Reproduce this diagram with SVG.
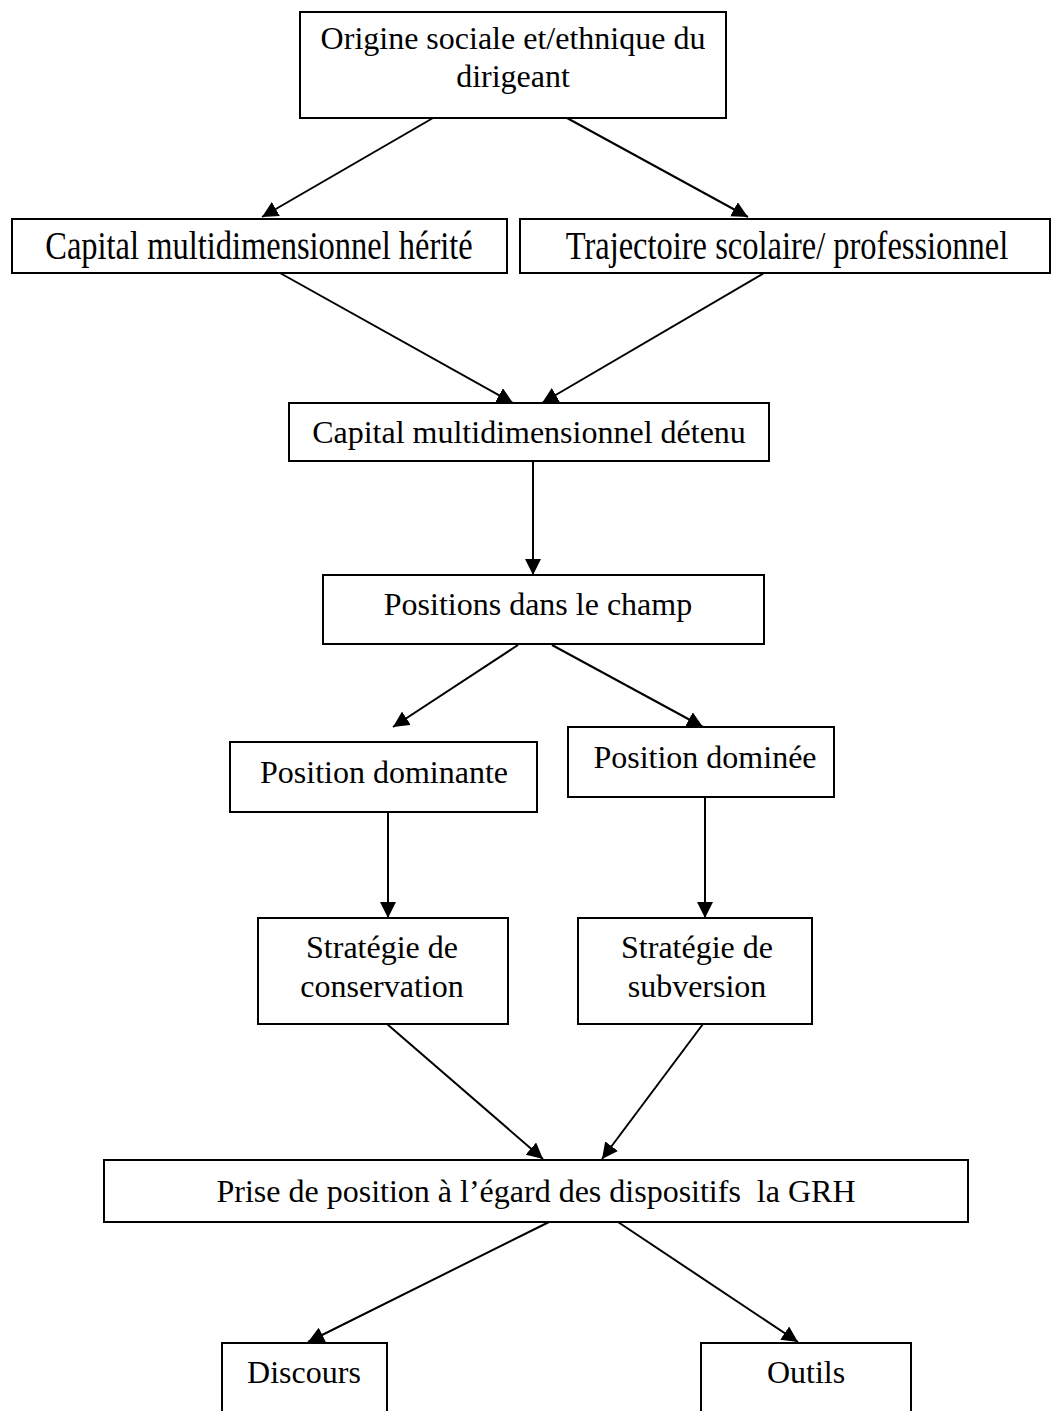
<svg xmlns="http://www.w3.org/2000/svg" width="1052" height="1411" viewBox="0 0 1052 1411">
<style>
.box{fill:#fff;stroke:#000;stroke-width:2}
.t{font-family:"Liberation Serif","Times New Roman",serif;font-size:32px;fill:#000;text-anchor:middle;white-space:pre}
.tall{font-size:32.5px}
.c{stroke:#000;stroke-width:2;fill:none;marker-end:url(#ah)}
</style>
<defs>
<marker id="ah" markerUnits="userSpaceOnUse" markerWidth="16" markerHeight="16" refX="16" refY="8" orient="auto">
<path d="M0,0 L16,8 L0,16 z" fill="#000"/>
</marker>
</defs>
<rect width="1052" height="1411" fill="#fff"/>
<g id="connectors">
<line class="c" x1="433" y1="118" x2="262" y2="217"/>
<line class="c" x1="567" y1="118" x2="748" y2="217"/>
<line class="c" x1="280" y1="273" x2="513" y2="403"/>
<line class="c" x1="764" y1="273" x2="542" y2="403"/>
<line class="c" x1="533" y1="461" x2="533" y2="575"/>
<line class="c" x1="518" y1="645" x2="393" y2="727"/>
<line class="c" x1="552" y1="645" x2="703" y2="727"/>
<line class="c" x1="388" y1="812" x2="388" y2="918"/>
<line class="c" x1="705" y1="797" x2="705" y2="918"/>
<line class="c" x1="387" y1="1024" x2="543" y2="1159"/>
<line class="c" x1="703" y1="1024" x2="602" y2="1159"/>
<line class="c" x1="549" y1="1222" x2="308" y2="1342"/>
<line class="c" x1="618" y1="1222" x2="798" y2="1342"/>
</g>
<g id="origine">
<rect class="box" x="300" y="12" width="426" height="106"/>
<text class="t" x="513" y="49">Origine sociale et/ethnique du</text>
<text class="t" x="513" y="87">dirigeant</text>
</g>
<g id="capital-herite">
<rect class="box" x="12" y="219" width="495" height="54"/>
<text class="t tall" transform="translate(259,259) scale(1,1.2)" x="0" y="0">Capital multidimensionnel hérité</text>
</g>
<g id="trajectoire">
<rect class="box" x="520" y="219" width="530" height="54"/>
<text class="t tall" transform="translate(787,259) scale(1,1.2)" x="0" y="0">Trajectoire scolaire/ professionnel</text>
</g>
<g id="capital-detenu">
<rect class="box" x="289" y="403" width="480" height="58"/>
<text class="t" x="529" y="443">Capital multidimensionnel détenu</text>
</g>
<g id="positions">
<rect class="box" x="323" y="575" width="441" height="69"/>
<text class="t" x="538" y="615">Positions dans le champ</text>
</g>
<g id="dominante">
<rect class="box" x="230" y="742" width="307" height="70"/>
<text class="t" x="384" y="783">Position dominante</text>
</g>
<g id="dominee">
<rect class="box" x="568" y="727" width="266" height="70"/>
<text class="t" x="705" y="768">Position dominée</text>
</g>
<g id="conservation">
<rect class="box" x="258" y="918" width="250" height="106"/>
<text class="t" x="382" y="958">Stratégie de</text>
<text class="t" x="382" y="997">conservation</text>
</g>
<g id="subversion">
<rect class="box" x="578" y="918" width="234" height="106"/>
<text class="t" x="697" y="958">Stratégie de</text>
<text class="t" x="697" y="997">subversion</text>
</g>
<g id="prise">
<rect class="box" x="104" y="1160" width="864" height="62"/>
<text class="t" x="536" y="1202">Prise de position à l’égard des dispositifs  la GRH</text>
</g>
<g id="discours">
<rect class="box" x="222" y="1343" width="165" height="80"/>
<text class="t" x="304" y="1383">Discours</text>
</g>
<g id="outils">
<rect class="box" x="701" y="1343" width="210" height="80"/>
<text class="t" x="806" y="1383">Outils</text>
</g>
</svg>
